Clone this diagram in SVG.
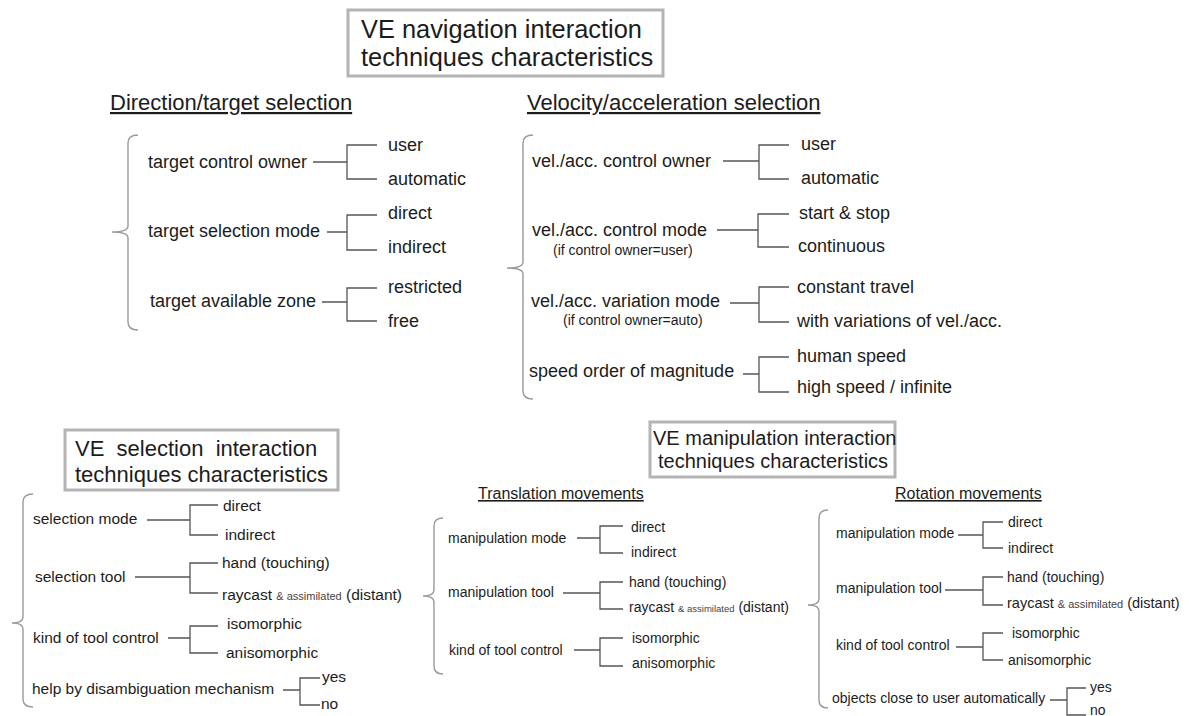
<svg xmlns="http://www.w3.org/2000/svg" width="1189" height="716" viewBox="0 0 1189 716">
<style>
text{font-family:"Liberation Sans",Arial,sans-serif;fill:#1c1c1c}
.title{font-size:25.4px}
.t2{font-size:22px}
.t3{font-size:20px}
.head{font-size:22px;text-decoration:underline}
.head2{font-size:16px;text-decoration:underline}
.n{font-size:18px}
.sub{font-size:14px}
.s{font-size:15.5px}
.sm{font-size:11px;fill:#444}
.m{font-size:14px}
.msm{font-size:9.5px;fill:#444}
.rsm{font-size:11px;fill:#444}
.box{fill:#fff;stroke:#b4b4b4;stroke-width:3}
.brace{fill:none;stroke:#9a9a9a;stroke-width:1.4}
.con path{fill:none;stroke:#555;stroke-width:1.3}
</style>
<rect width="1189" height="716" fill="#fff"/>

<g id="nav-title">
<rect class="box" x="348" y="10" width="315" height="66"/>
<text class="title" x="361" y="38">VE navigation interaction</text>
<text class="title" x="361" y="66">techniques characteristics</text>
</g>

<g id="direction">
<text class="head" x="110" y="110">Direction/target selection</text>
<path class="brace" d="M138 135 Q128 135 128 143 L128 226 Q128 232 112 232 Q128 232 128 238 L128 322 Q128 330 138 330"/>
<text class="n" x="148" y="168">target control owner</text>
<text class="n" x="388" y="151">user</text>
<text class="n" x="388" y="185">automatic</text>
<text class="n" x="148" y="237">target selection mode</text>
<text class="n" x="388" y="219">direct</text>
<text class="n" x="388" y="253">indirect</text>
<text class="n" x="150" y="307">target available zone</text>
<text class="n" x="388" y="293">restricted</text>
<text class="n" x="388" y="327">free</text>
</g>

<g id="velocity">
<text class="head" x="527" y="110">Velocity/acceleration selection</text>
<path class="brace" d="M533 135 Q523 135 523 143 L523 262 Q523 268 507 268 Q523 268 523 274 L523 391 Q523 399 533 399"/>
<text class="n" x="532" y="167">vel./acc. control owner</text>
<text class="n" x="801" y="150">user</text>
<text class="n" x="801" y="184">automatic</text>
<text class="n" x="532" y="236">vel./acc. control mode</text>
<text class="sub" x="553" y="255">(if control owner=user)</text>
<text class="n" x="799" y="219">start &amp; stop</text>
<text class="n" x="798" y="252">continuous</text>
<text class="n" x="531" y="307">vel./acc. variation mode</text>
<text class="sub" x="563" y="325">(if control owner=auto)</text>
<text class="n" x="797" y="293">constant travel</text>
<text class="n" x="797" y="327">with variations of vel./acc.</text>
<text class="n" x="529" y="377">speed order of magnitude</text>
<text class="n" x="797" y="362">human speed</text>
<text class="n" x="797" y="393">high speed / infinite</text>
</g>

<g id="sel-title">
<rect class="box" x="65" y="430" width="273" height="60"/>
<text class="t2" x="75" y="456" style="white-space:pre">VE  selection  interaction</text>
<text class="t2" x="75" y="482">techniques characteristics</text>
</g>

<g id="selection">
<path class="brace" d="M33 494 Q23 494 23 502 L23 617 Q23 623 12 623 Q23 623 23 629 L23 699 Q23 707 33 707"/>
<text class="s" x="33" y="524">selection mode</text>
<text class="s" x="223" y="511">direct</text>
<text class="s" x="225" y="540">indirect</text>
<text class="s" x="35" y="582">selection tool</text>
<text class="s" x="222" y="568">hand (touching)</text>
<text class="s" x="222" y="600">raycast <tspan class="sm">&amp; assimilated</tspan> (distant)</text>
<text class="s" x="33" y="643">kind of tool control</text>
<text class="s" x="227" y="629">isomorphic</text>
<text class="s" x="226" y="658">anisomorphic</text>
<text class="s" x="32" y="694">help by disambiguation mechanism</text>
<text class="s" x="322" y="682">yes</text>
<text class="s" x="321" y="709">no</text>
</g>

<g id="man-title">
<rect class="box" x="650" y="422" width="245" height="55"/>
<text class="t3" x="653" y="445">VE manipulation interaction</text>
<text class="t3" x="658" y="468">techniques characteristics</text>
</g>

<g id="translation">
<text class="head2" x="478" y="499">Translation movements</text>
<path class="brace" d="M443 518 Q434 518 434 526 L434 590 Q434 596 423 596 Q434 596 434 602 L434 666 Q434 674 443 674"/>
<text class="m" x="448" y="543">manipulation mode</text>
<text class="m" x="631" y="532">direct</text>
<text class="m" x="631" y="557">indirect</text>
<text class="m" x="448" y="597">manipulation tool</text>
<text class="m" x="629" y="587">hand (touching)</text>
<text class="m" x="629" y="612">raycast <tspan class="msm">&amp; assimilated</tspan> (distant)</text>
<text class="m" x="449" y="655">kind of tool control</text>
<text class="m" x="632" y="643">isomorphic</text>
<text class="m" x="632" y="668">anisomorphic</text>
</g>

<g id="rotation">
<text class="head2" x="895" y="499">Rotation movements</text>
<path class="brace" d="M828 510 Q819 510 819 518 L819 599 Q819 605 808 605 Q819 605 819 611 L819 700 Q819 708 828 708"/>
<text class="m" x="836" y="538">manipulation mode</text>
<text class="m" x="1008" y="527">direct</text>
<text class="m" x="1008" y="553">indirect</text>
<text class="m" x="836" y="593">manipulation tool</text>
<text class="m" x="1007" y="582">hand (touching)</text>
<text class="m" x="1007" y="608" style="font-size:14.5px">raycast <tspan class="rsm">&amp; assimilated</tspan> (distant)</text>
<text class="m" x="836" y="650">kind of tool control</text>
<text class="m" x="1012" y="638">isomorphic</text>
<text class="m" x="1008" y="665">anisomorphic</text>
<text class="m" x="832" y="703">objects close to user automatically</text>
<text class="m" x="1090" y="692">yes</text>
<text class="m" x="1090" y="715">no</text>
</g>

<g id="connectors" class="con">
<path d="M313 162H347M377 145H347V179H377"/>
<path d="M327 232H347M377 215H347V250H377"/>
<path d="M322 302H347M377 288H347V321H377"/>
<path d="M723 161H759M789 145H759V179H789"/>
<path d="M717 230H758M789 214H758V247H789"/>
<path d="M730 303H759M789 287H759V322H789"/>
<path d="M743 374H759M789 357H759V392H789"/>
<path d="M147 520H190M218 505H190V535H218"/>
<path d="M135 577H190M218 563H190V593H218"/>
<path d="M168 638H190M218 626H190V653H218"/>
<path d="M283 690H300M320 678H300V705H320"/>
<path d="M577 538H600M623 526H600V553H623"/>
<path d="M563 593H600M623 582H600V609H623"/>
<path d="M574 650H600M623 638H600V666H623"/>
<path d="M958 535H983M1003 522H983V548H1003"/>
<path d="M945 590H983M1003 577H983V605H1003"/>
<path d="M956 647H983M1003 633H983V660H1003"/>
<path d="M1050 700H1067M1086 688H1067V715H1086"/>
</g>
</svg>
